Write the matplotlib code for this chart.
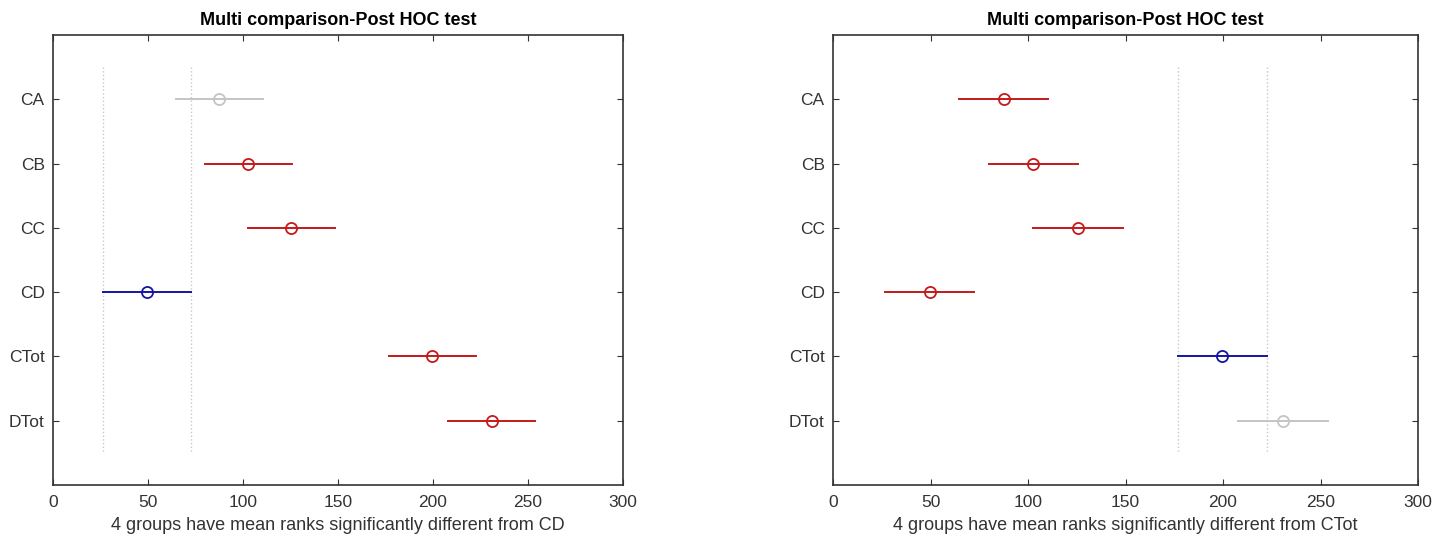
import matplotlib
matplotlib.use("Agg")
import matplotlib.pyplot as plt

plt.rcParams['font.family'] = ['Liberation Sans', 'DejaVu Sans']

groups = ["CA", "CB", "CC", "CD", "CTot", "DTot"]
means = [87.5, 102.8, 125.5, 49.5, 199.7, 230.8]
half_width = 23.0

panels = [
    {"ref": "CD", "colors": ["gray", "red", "red", "blue", "red", "red"],
     "xlabel": "4 groups have mean ranks significantly different from CD"},
    {"ref": "CTot", "colors": ["red", "red", "red", "red", "blue", "gray"],
     "xlabel": "4 groups have mean ranks significantly different from CTot"},
]
title = "Multi comparison-Post HOC test"
xticks = [0, 50, 100, 150, 200, 250, 300]

cmap = {"red": "#c41a1a", "blue": "#1414a0", "gray": "#c4c4c4"}

fig = plt.figure(figsize=(14.48, 5.41), dpi=100)
rects = [[53/1448, 56/541, 570/1448, 450/541],
         [833/1448, 56/541, 585/1448, 450/541]]

for rect, p in zip(rects, panels):
    ax = fig.add_axes(rect)
    ypos = list(range(1, len(groups) + 1))
    ri = groups.index(p["ref"])
    m = means[ri]
    for xv in (m - half_width, m + half_width):
        ax.plot([xv, xv], [0.5, len(groups) + 0.5], linestyle=':', color='#c8c8c8', lw=1)
    for g, y, mu, c in zip(groups, ypos, means, p["colors"]):
        col = cmap[c]
        ax.plot([mu - half_width, mu + half_width], [y, y], color=col, lw=1.4)
        ax.plot([mu], [y], marker='o', markersize=8, markerfacecolor='none',
                markeredgecolor=col, markeredgewidth=1.3)
    ax.set_xlim(0, 300)
    ax.set_ylim(len(groups) + 1, 0)
    ax.set_xticks(xticks)
    ax.set_yticks(ypos)
    ax.set_yticklabels(groups)
    ax.tick_params(direction='in', top=True, right=True, length=4, width=0.8,
                   colors='#333333', labelsize=12.5)
    ax.tick_params(axis='x', pad=7)
    ax.tick_params(axis='y', pad=6)
    for s in ax.spines.values():
        s.set_color('#333333')
        s.set_linewidth(1.2)
    ax.set_title(title, fontsize=13, fontweight='bold', pad=7)
    ax.set_xlabel(p["xlabel"], fontsize=13, color='#333333', labelpad=5)

fig.savefig("out.png", dpi=100)
